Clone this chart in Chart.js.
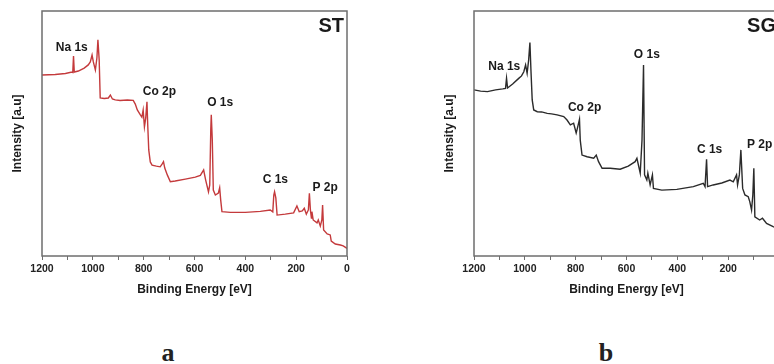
<!DOCTYPE html>
<html>
<head>
<meta charset="utf-8">
<script src="https://cdn.jsdelivr.net/npm/chart.js@4.4.1/dist/chart.umd.min.js"></script>
<style>
  html, body { margin: 0; padding: 0; background: #fff; }
  body { width: 774px; height: 364px; position: relative; overflow: hidden; }
  .panel { position: absolute; top: 0; width: 380px; height: 297px; }
  .tag { position: absolute; top: 338px; font: bold 26px "Liberation Serif", "Times New Roman", serif; color: #222; transform: translateX(-50%); }
</style>
</head>
<body>
<div class="panel" style="left:0"><canvas id="stChart" width="380" height="297"></canvas></div>
<div class="panel" style="left:432px"><canvas id="sgChart" width="380" height="297"></canvas></div>
<div class="tag" style="left:168px">a</div>
<div class="tag" style="left:606px">b</div>
<script>
// XPS survey spectra, binding energy in eV, intensity in arbitrary units (0-100)
const xTicks = [1200, 1000, 800, 600, 400, 200, 0]

// ST sample (red)
const stEnergy = [1200, 1148, 1108, 1082, 1079, 1076, 1073, 1057, 1034, 1018, 1010, 1003, 998, 990, 984, 980, 975, 971,
  955, 939, 931, 923, 912, 893, 864, 841, 833, 825, 813, 807, 802, 797, 792, 787, 784, 780, 774, 767, 750, 735, 727,
  722, 717, 707, 695, 676, 636, 597, 577, 564, 556, 545, 540, 536, 534, 530, 526, 518, 506, 501, 497, 492, 459, 400,
  341, 302, 292, 288, 285, 280, 275, 243, 210, 197, 188, 176, 168, 160, 152, 148, 144, 140, 138, 133, 118, 113, 105,
  99, 96, 92, 78, 66, 62, 46, 26, 15, 0]
const stIntensity = [73.9, 74.1, 74.5, 75.1, 74.9, 81.6, 75.1, 75.5, 76.7, 78.0, 79.2, 82.0, 79.2, 75.9, 80.8, 88.2, 80.0, 64.5,
  64.3, 64.5, 65.7, 64.1, 63.7, 63.5, 63.7, 63.5, 62.0, 59.6, 57.6, 56.7, 59.6, 52.7, 56.3, 62.9, 53.5, 43.3, 38.4, 37.1, 36.7, 36.4, 37.6,
  38.5, 35.9, 33.1, 30.3, 30.6, 31.4, 32.2, 32.9, 35.1, 31.0, 26.2, 29.0, 51.4, 57.6, 47.3, 26.9, 24.9, 25.7, 27.8, 22.9, 18.1, 17.8, 17.8,
  18.2, 18.8, 18.0, 24.9, 26.2, 23.7, 16.7, 17.1, 17.6, 20.4, 18.1, 18.4, 19.5, 17.1, 18.8, 25.6, 18.8, 15.5, 18.1, 14.7, 13.5, 14.7, 12.2,
  14.7, 20.8, 10.6, 9.0, 8.6, 6.1, 4.9, 4.5, 4.1, 3.1]

// SG sample (black)
const sgEnergy = [1200, 1174, 1147, 1115, 1087, 1076, 1072, 1068, 1048, 1024, 1013, 1004, 997, 991, 985, 980, 976, 971,
  965, 951, 934, 912, 895, 873, 847, 834, 821, 808, 798, 793, 785, 782, 775, 755, 729, 719, 710, 696, 664, 625, 593,
  566, 559, 546, 539, 533, 529, 520, 516, 507, 498, 494, 461, 402, 337, 298, 291, 285, 281, 259, 225, 193, 180, 167,
  163, 156, 150, 143, 134, 121, 115, 108, 103, 99, 95, 76, 65, 49, 23, 0]
const sgIntensity = [67.8, 67.3, 67.1, 67.8, 68.2, 68.4, 72.5, 68.6, 70.2, 72.5, 73.5, 75.2, 78.0, 74.6, 80.0, 87.1, 75.9, 63.7,
  59.6, 58.9, 58.8, 58.2, 58.0, 57.6, 56.9, 55.5, 53.5, 54.2, 50.2, 52.2, 55.8, 47.3, 41.2, 40.5, 39.9, 41.2, 38.5, 35.8, 35.8, 35.4, 36.7,
  38.5, 39.9, 33.8, 47.3, 78.0, 33.1, 31.0, 33.8, 29.0, 33.1, 27.6, 26.9, 27.2, 28.3, 29.7, 28.3, 39.5, 28.3, 29.0, 29.8, 31.0, 30.3, 33.1,
  29.0, 33.1, 43.3, 27.6, 24.9, 24.2, 22.2, 18.8, 24.9, 35.8, 16.0, 14.7, 15.4, 13.3, 12.0, 11.0]

// peak labels: text, energy (centre), intensity (centre)
const stLabels = ['Na 1s', 'Co 2p', 'O 1s', 'C 1s', 'P 2p']
const stLabelEnergy = [1083, 738, 499, 282, 86]
const stLabelIntensity = [84.9, 66.9, 62.4, 31.0, 28.0]
const sgLabels = ['Na 1s', 'Co 2p', 'O 1s', 'C 1s', 'P 2p']
const sgLabelEnergy = [1081, 765, 520, 273, 76]
const sgLabelIntensity = [77.3, 60.7, 82.0, 43.3, 45.3]

const FONT = '"Liberation Sans", Arial, sans-serif'

// frame around the plot + peak labels + sample name
const decorate = {
  id: 'decorate',
  afterDraw(chart, args, opts) {
    const { ctx, chartArea: a, scales } = chart
    ctx.save()
    ctx.strokeStyle = '#6e6e6e'
    ctx.lineWidth = 1.5
    ctx.strokeRect(a.left, a.top, a.right - a.left, a.bottom - a.top)

    ctx.fillStyle = '#1a1a1a'
    ctx.textAlign = 'center'
    ctx.textBaseline = 'middle'
    ctx.font = 'bold 12px ' + FONT
    opts.labels.forEach((t, i) => {
      ctx.fillText(t, scales.x.getPixelForValue(opts.energy[i]), scales.y.getPixelForValue(opts.intensity[i]))
    })
    ctx.font = 'bold 20px ' + FONT
    ctx.textAlign = 'right'
    ctx.fillText(opts.name, a.right - 3, a.top + 15)
    ctx.restore()
  }
}

function makeChart(id, name, energy, intensity, color, labels, labelEnergy, labelIntensity) {
  const points = energy.map((e, i) => ({ x: e, y: intensity[i] }))
  return new Chart(document.getElementById(id), {
    type: 'line',
    data: {
      datasets: [{
        data: points,
        borderColor: color,
        borderWidth: 1.4,
        pointRadius: 0,
        tension: 0,
        fill: false
      }]
    },
    options: {
      responsive: false,
      animation: false,
      layout: { padding: { left: 0, right: 33, top: 11, bottom: 0 } },
      plugins: {
        legend: { display: false },
        tooltip: { enabled: false },
        decorate: { name, labels, energy: labelEnergy, intensity: labelIntensity }
      },
      scales: {
        x: {
          type: 'linear',
          reverse: true,
          min: 0,
          max: 1200,
          grid: { display: true, drawOnChartArea: false, drawTicks: true, tickLength: 4, color: '#6e6e6e' },
          border: { display: false },
          ticks: {
            stepSize: 100,
            autoSkip: false,
            maxRotation: 0,
            padding: 3,
            color: '#222',
            font: { family: FONT, size: 10.5, weight: 'bold' },
            callback: v => (xTicks.includes(v) ? String(v) : '')
          },
          title: {
            display: true,
            text: 'Binding Energy [eV]',
            color: '#1a1a1a',
            padding: 0,
            font: { family: FONT, size: 12, weight: 'bold' }
          },
          afterFit: s => { s.height = 41 }
        },
        y: {
          min: 0,
          max: 100,
          grid: { display: false },
          border: { display: false },
          ticks: { display: false },
          title: {
            display: true,
            text: 'Intensity [a.u]',
            color: '#1a1a1a',
            padding: { top: 10, bottom: 0 },
            font: { family: FONT, size: 12, weight: 'bold' }
          },
          afterFit: s => { s.width = 42 }
        }
      }
    },
    plugins: [decorate]
  })
}

makeChart('stChart', 'ST', stEnergy, stIntensity, '#c43a3c', stLabels, stLabelEnergy, stLabelIntensity)
makeChart('sgChart', 'SG', sgEnergy, sgIntensity, '#2b2b2b', sgLabels, sgLabelEnergy, sgLabelIntensity)
</script>
</body>
</html>
